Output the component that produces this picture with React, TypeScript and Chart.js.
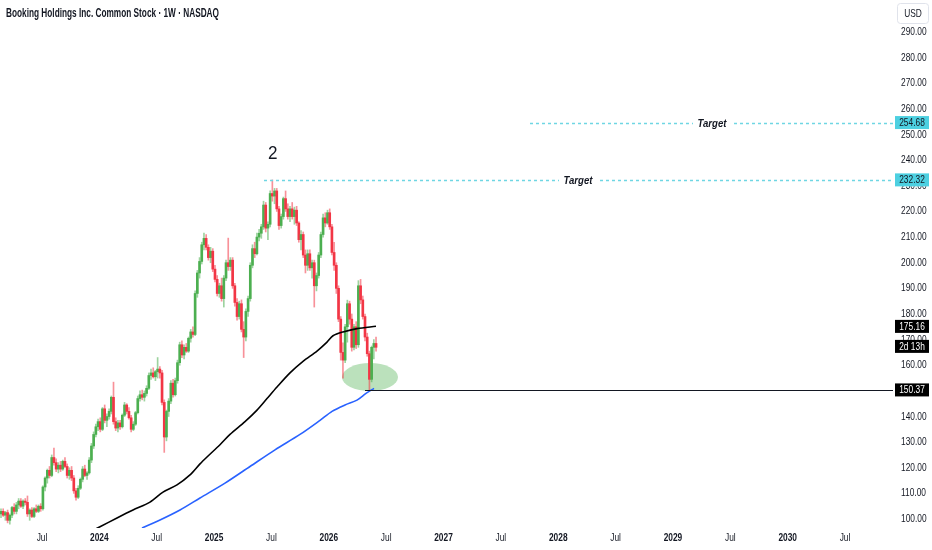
import React, { useEffect, useRef } from "react";
import { Chart, registerables } from "chart.js";

Chart.register(...registerables);

const TITLE = "Booking Holdings Inc. Common Stock · 1W · NASDAQ";
// x values are months counted from Jan 2024
const FIRST_WEEK_MONTH = -10.289;
const WEEK_IN_MONTHS = 12 / 52;
const X_MIN = -10.393;
const X_MAX = 83.017;
const Y_MIN = 96.5;
const Y_MAX = 302.5;

const xTickValues = [-6, 0, 6, 12, 18, 24, 30, 36, 42, 48, 54, 60, 66, 72, 78];
const yTickValues = [100, 110, 120, 130, 140, 150, 160, 170, 180, 190, 200, 210, 220, 230, 240, 250, 260, 270, 280, 290];

const opens = [102,103,101.5,102.5,99.5,101.5,104.5,103,105.5,107,105,107,106.5,102,103.5,101,104,103,105,104,112.5,116,119,117,124,122,119.5,121,119.5,122.5,120.5,117,119,116,111,108.5,112,115.5,119.5,117,118,123,128.5,133,136,138,135,143,138.5,140,142,147.5,138,135.5,137.5,136,140.5,144.5,142,139.5,135,137,141.5,147,148.5,147.5,149,151,156,157,155.5,157.5,158.5,157,145.5,132,142,146,153,148.5,154,161,168,164,167,165.5,170.5,173,172,188,196,200.5,207,209.5,206,202,204.5,197.5,193.5,188,191,186,194,200,198.5,201,191,184.5,179,184,174,171,181,186,199,205.5,203.5,210,211.5,214,222.5,213.5,215,227,226,228,221,214.5,218,225,221,218,221,218,220.5,215.5,209,211,203,199,203.5,198,200,191,195,203,211,217.5,215.5,219.5,214,204,199,190,178,165,162,175,184,178,167,175,168,191,185.5,179,171,164.5,154.5,167,168.5];
const highs = [104,104,103,103.5,102,105,106,106.5,108,108,107.5,108,109,104,104.5,104.5,105.5,105.5,106,113,116.5,119.5,120.5,125,127.7,123.5,122,122.5,123,124,121.5,120,120.5,117,112,113,116,120.5,121,118.5,124,129.5,134,137,139,139.5,143.5,144.5,141,143,148,153.4,139.5,138.5,138.5,141,145.5,145,143.5,140.5,138,142,148,150,150.3,150,152,157,158.5,159,158,163,159.5,158,146.5,142.5,147,154,154.5,155,162,169,169.5,168,168.5,171,174,175,189,197,202,208,211.6,211,207,206,205.5,199,195,192,194,195,201,209.6,202,202,192,186,185,185.5,177,182,187,200,207,208,211.6,213,215,224,223.5,216,228,232.3,229,229,222,219,225.6,228,223,222,223.5,221.7,222,216,212.5,212,205,205,205,201,201,196,204,212,219,219.5,220.5,221,215,208,200,191,179,168.7,176,185.4,185,180,176,177,193,193.5,187,180,172.5,165.5,167.5,170,171];
const lows = [100.5,101,99.5,98.5,98,100.5,102,102,104,104.5,104,105.5,101,99.5,100.5,100.5,102.5,102.5,103,103.5,111,114,116,116.5,121,118.5,118,118.5,119,120,116,115.5,115,110,107.4,108,111.5,114.5,116.5,115.5,117.5,122,127.5,132,134.5,134,134.5,137.5,136,139,141,137,134.5,134,135,135.5,140,141,139,134,134.5,136.5,141,146,146.5,146,148,150.5,154.5,155,154,155,155,144.5,126,130.5,140,145,147.5,148,153,160,163,162.5,165,165,169,171,171.5,186.5,194,199.5,205,205,201,200,196.5,192.5,187,186.5,185,182.7,193,197,197,190,183,177.6,178,173,163,169.5,179,185,198,202,203,208.5,209.5,213,212,209,214,224,223,220,213,213.5,217,220,217,216,217,215,214.5,208,205,202,196,197,197,194,182.7,189,194,202,210,214,215,213,203,197,188,177,162,155,161,169,176,165.5,166,166.5,167,184,178,169.5,163.5,150.4,153.5,162.5,165.5];
const closes = [103,101.5,102.5,99.5,101.5,104.5,103,105.5,107,105,107,106.5,102,103.5,101,104,103,105,104,112.5,116,119,117,124,122,119.5,121,119.5,122.5,120.5,117,119,116,111,108.5,112,115.5,119.5,117,118,123,128.5,133,136,138,135,143,138.5,140,142,147.5,138,135.5,137.5,136,140.5,144.5,142,139.5,135,137,141.5,147,148.5,147.5,149,151,156,157,155.5,157.5,158.5,157,145.5,132,142,146,153,148.5,154,161,168,164,167,165.5,170.5,173,172,188,196,200.5,207,209.5,206,202,204.5,197.5,193.5,188,191,186,194,200,198.5,201,191,184.5,179,184,174,171,181,186,199,205.5,203.5,210,211.5,214,222.5,213.5,215,227,226,228,221,214.5,218,225,221,218,221,218,220.5,215.5,209,211,203,199,203.5,198,200,191,195,203,211,217.5,215.5,219.5,214,204,199,190,178,165,162,175,184,178,167,175,168,191,185.5,179,171,164.5,154.5,167,168.5,167];

// moving averages (month, price)
const maBlackMonths = [-0.456,0.067,1.845,3.519,5.297,6.657,8.121,9.481,10.527,11.259,12.619,13.665,15.234,16.49,17.536,18.582,19.941,21.301,22.766,23.812,24.439,25.485,26.95,28.937];
const maBlackValues = [96,97,100.4,103.5,106.6,110.5,113.3,117.2,121.5,124.2,129,133,138,142.5,147,151.5,157,161.5,165.5,169,171.5,173,174.3,175.2];
const maBlueMonths = [4.46,6.343,8.435,10.527,13.142,15.757,18.372,20.987,23.079,24.335,25.695,26.95,27.891,28.728];
const maBlueValues = [96.5,99.6,103.5,108.2,114,120.5,127,133,138.5,142,144.5,146.4,149,151];

const TARGET_PRICES = [254.68, 232.32];
const TARGET_START_MONTHS = [45.046, 17.222];
const TARGET_TEXT_MONTHS = [64.08, 50.067];
const SUPPORT_PRICE = 150.37;
const SUPPORT_START_MONTH = 27.787;
const MA_LAST = 175.16;
const WAVE_LABEL = { text: "2", month: 18.13, price: 242.4 };
const ZONE = { month: 28.31, price: 155.4 };

const SANS = "'Liberation Sans', Arial, sans-serif";
const SQUEEZE = 0.76;
const GREEN = "#4caf50";
const RED = "#f23645";
const INK = "#131722";

function drawText(
  ctx: CanvasRenderingContext2D,
  text: string,
  x: number,
  y: number,
  font: string,
  color: string,
  align: "left" | "center" | "right",
  sx: number
) {
  ctx.save();
  ctx.font = font;
  ctx.fillStyle = color;
  ctx.textBaseline = "middle";
  ctx.textAlign = "left";
  const w = ctx.measureText(text).width * sx;
  const left = align === "center" ? x - w / 2 : align === "right" ? x - w : x;
  ctx.translate(left, y);
  ctx.scale(sx, 1);
  ctx.fillText(text, 0, 0);
  ctx.restore();
}

function axisLabel(ctx: CanvasRenderingContext2D, x: number, y: number, text: string, bg: string, fg: string) {
  ctx.save();
  ctx.fillStyle = bg;
  ctx.fillRect(x, y - 6.5, 34, 13);
  ctx.restore();
  drawText(ctx, text, x + 17, y + 0.5, `11px ${SANS}`, fg, "center", SQUEEZE);
}

const overlayPlugin = {
  id: "overlay",
  beforeDatasetsDraw(chart: any) {
    const { ctx, scales } = chart;
    const x = scales.x.getPixelForValue(ZONE.month);
    const y = scales.y.getPixelForValue(ZONE.price);
    ctx.save();
    ctx.fillStyle = "rgba(76,175,80,0.38)";
    ctx.beginPath();
    ctx.ellipse(x, y, 28, 14, 0, 0, Math.PI * 2);
    ctx.fill();
    ctx.restore();
  },
  afterDatasetsDraw(chart: any) {
    const { ctx, scales, chartArea } = chart;
    const xs = scales.x;
    const ys = scales.y;
    ctx.save();
    const sy = Math.round(ys.getPixelForValue(SUPPORT_PRICE)) + 0.5;
    ctx.strokeStyle = INK;
    ctx.lineWidth = 1;
    ctx.beginPath();
    ctx.moveTo(xs.getPixelForValue(SUPPORT_START_MONTH), sy);
    ctx.lineTo(chartArea.right, sy);
    ctx.stroke();
    TARGET_PRICES.forEach((p, k) => {
      const ty = Math.round(ys.getPixelForValue(p)) + 0.5;
      ctx.strokeStyle = "#6fd6e3";
      ctx.lineWidth = 1.3;
      ctx.setLineDash([3, 3]);
      ctx.beginPath();
      ctx.moveTo(xs.getPixelForValue(TARGET_START_MONTHS[k]), ty);
      ctx.lineTo(chartArea.right, ty);
      ctx.stroke();
      ctx.setLineDash([]);
      const tx = xs.getPixelForValue(TARGET_TEXT_MONTHS[k]);
      const font = `italic bold 11px ${SANS}`;
      ctx.font = font;
      const sx = 29 / ctx.measureText("Target").width;
      ctx.fillStyle = "#ffffff";
      ctx.fillRect(tx - 19, ty - 7, 38, 14);
      drawText(ctx, "Target", tx, ty, font, INK, "center", sx);
    });
    ctx.restore();
    drawText(
      ctx,
      WAVE_LABEL.text,
      xs.getPixelForValue(WAVE_LABEL.month),
      ys.getPixelForValue(WAVE_LABEL.price),
      `18px ${SANS}`,
      INK,
      "center",
      0.95
    );
  },
  afterDraw(chart: any) {
    const { ctx, scales, chartArea } = chart;
    const xs = scales.x;
    const ys = scales.y;
    xTickValues.forEach((v) => {
      const isYear = v % 12 === 0;
      drawText(
        ctx,
        isYear ? String(2024 + v / 12) : "Jul",
        xs.getPixelForValue(v),
        538,
        `${isYear ? "bold " : ""}11px ${SANS}`,
        INK,
        "center",
        SQUEEZE
      );
    });
    yTickValues.forEach((v) => {
      drawText(ctx, v.toFixed(2), chartArea.right + 8, ys.getPixelForValue(v), `11px ${SANS}`, INK, "left", SQUEEZE);
    });
    ctx.save();
    const tfont = `bold 12px ${SANS}`;
    ctx.font = tfont;
    const tsx = 213 / ctx.measureText(TITLE).width;
    ctx.restore();
    drawText(ctx, TITLE, 6, 14, tfont, INK, "left", tsx);
    ctx.save();
    ctx.strokeStyle = "#e0e3eb";
    ctx.fillStyle = "#ffffff";
    ctx.lineWidth = 1;
    ctx.beginPath();
    ctx.roundRect(897.5, 3.5, 31, 20, 3);
    ctx.fill();
    ctx.stroke();
    ctx.restore();
    drawText(ctx, "USD", 913, 14, `11px ${SANS}`, INK, "center", SQUEEZE);
    const bx = chartArea.right + 2;
    TARGET_PRICES.forEach((p) => axisLabel(ctx, bx, ys.getPixelForValue(p), p.toFixed(2), "#4dd0e1", INK));
    const my = ys.getPixelForValue(MA_LAST);
    axisLabel(ctx, bx, my, MA_LAST.toFixed(2), "#000000", "#ffffff");
    axisLabel(ctx, bx, my + 20, "2d 13h", "#000000", "#ffffff");
    axisLabel(ctx, bx, ys.getPixelForValue(SUPPORT_PRICE), SUPPORT_PRICE.toFixed(2), "#000000", "#ffffff");
  },
};

export default function App() {
  const ref = useRef<HTMLCanvasElement | null>(null);
  useEffect(() => {
    if (!ref.current) return;
    const months = opens.map((_, i) => FIRST_WEEK_MONTH + i * WEEK_IN_MONTHS);
    const up = opens.map((o, i) => closes[i] >= o);
    const wickData = months.map((m, i) => ({ x: m, y: [lows[i], highs[i]] }));
    const bodyData = months.map((m, i) => ({ x: m, y: [opens[i], closes[i] === opens[i] ? opens[i] + 0.2 : closes[i]] }));
    const chart = new Chart(ref.current, {
      type: "bar",
      data: {
        datasets: [
          {
            type: "line",
            data: maBlackMonths.map((m, i) => ({ x: m, y: maBlackValues[i] })),
            borderColor: "#000000",
            borderWidth: 1.6,
            pointRadius: 0,
            tension: 0.3,
            order: 0,
          } as any,
          {
            type: "line",
            data: maBlueMonths.map((m, i) => ({ x: m, y: maBlueValues[i] })),
            borderColor: "#2962ff",
            borderWidth: 1.6,
            pointRadius: 0,
            tension: 0.3,
            order: 0,
          } as any,
          {
            type: "bar",
            data: bodyData as any,
            backgroundColor: up.map((u) => (u ? GREEN : RED)),
            barThickness: 2,
            grouped: false,
            order: 1,
          } as any,
          {
            type: "bar",
            data: wickData as any,
            backgroundColor: up.map((u) => (u ? "rgba(76,175,80,0.55)" : "rgba(242,54,69,0.55)")),
            barThickness: 1,
            grouped: false,
            order: 2,
          } as any,
        ],
      },
      options: {
        animation: false,
        responsive: false,
        maintainAspectRatio: false,
        layout: { padding: 0 },
        plugins: { legend: { display: false }, tooltip: { enabled: false } },
        scales: {
          x: {
            type: "linear",
            offset: false,
            min: X_MIN,
            max: X_MAX,
            grid: { display: false, offset: false },
            border: { display: false },
            afterBuildTicks: (s: any) => {
              s.ticks = xTickValues.map((v) => ({ value: v }));
            },
            afterFit: (s: any) => {
              s.height = 22;
              s.paddingLeft = 0;
              s.paddingRight = 0;
            },
            ticks: { display: false },
          },
          y: {
            type: "linear",
            position: "right",
            min: Y_MIN,
            max: Y_MAX,
            grid: { display: false },
            border: { display: false },
            afterBuildTicks: (s: any) => {
              s.ticks = yTickValues.map((v) => ({ value: v }));
            },
            afterFit: (s: any) => {
              s.width = 39;
              s.paddingTop = 0;
              s.paddingBottom = 0;
            },
            ticks: { display: false },
          },
        },
      } as any,
      plugins: [overlayPlugin],
    });
    return () => chart.destroy();
  }, []);
  return (
    <div style={{ position: "fixed", left: 0, top: 0, width: 932, height: 550, background: "#ffffff" }}>
      <canvas ref={ref} width={932} height={550} />
    </div>
  );
}
